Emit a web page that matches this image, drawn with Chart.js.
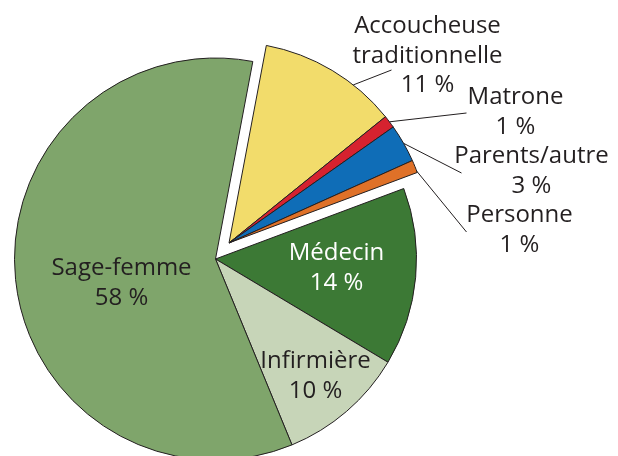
<!DOCTYPE html>
<html>
<head>
<meta charset="utf-8">
<script src="https://cdn.jsdelivr.net/npm/chart.js@4"></script>
<style>
    body { margin: 0; background: #fff; }
    #wrap { width: 618px; height: 456px; overflow: hidden; }
</style>
</head>
<body>
<div id="wrap"><canvas id="myChart" width="618" height="480"></canvas></div>
<script>
// values, clockwise from the top
const categories = ['Accoucheuse traditionnelle', 'Matrone', 'Parents/autre', 'Personne', 'Médecin', 'Infirmière', 'Sage-femme'];
const percents = [11, 1, 3, 1, 14, 10, 58];
const labelNames = [['Accoucheuse', 'traditionnelle'], ['Matrone'], ['Parents/autre'], ['Personne'], ['Médecin'], ['Infirmière'], ['Sage-femme']];
const exploded = [true, true, true, true, false, false, false];

const colors = ['#f2dc6b', '#d6222f', '#0f6db7', '#df7128', '#3c7935', '#c7d5b8', '#7fa56b'];
const textColors = ['#231f20', '#231f20', '#231f20', '#231f20', '#ffffff', '#231f20', '#231f20'];

// label placement relative to pie centre: [dx, dy of first baseline]
const labelPos = [[212, -226], [300, -155], [316, -96], [304, -37], [121, 1], [100, 109], [-94, 16]];
// leader lines: [fraction along arc, end dx, end dy] (null = label inside)
const leaders = [[0.68, 176, -189], [0.5, 251, -146], [0.5, 246, -86], [0.9, 251, -27], null, null, null];
const explodeDist = 21;

function groupExplode(chart) {
    let meta = chart.getDatasetMeta(0)
    let idx = []
    for (let i = 0; i < exploded.length; i++)
        if (exploded[i]) idx.push(i)
    let a0 = meta.data[idx[0]].startAngle
    let a1 = meta.data[idx[idx.length - 1]].endAngle
    let mid = (a0 + a1) / 2
    idx.forEach(i => {
        meta.data[i].x += Math.cos(mid) * explodeDist
        meta.data[i].y += Math.sin(mid) * explodeDist
    })
}

const pieLabels = {
    id: 'pieLabels',
    afterDatasetsUpdate(chart) {
        groupExplode(chart)
    },
    afterDatasetsDraw(chart) {
        let ctx = chart.ctx
        let meta = chart.getDatasetMeta(0)
        let cx = meta.data[4].x
        let cy = meta.data[4].y
        ctx.save()
        ctx.strokeStyle = '#231f20'
        ctx.lineWidth = 1
        for (let i = 0; i < percents.length; i++) {
            let l = leaders[i]
            if (!l) continue
            let arc = meta.data[i]
            let a = arc.startAngle + l[0] * (arc.endAngle - arc.startAngle)
            ctx.beginPath()
            ctx.moveTo(arc.x + Math.cos(a) * arc.outerRadius, arc.y + Math.sin(a) * arc.outerRadius)
            ctx.lineTo(cx + l[1], cy + l[2])
            ctx.stroke()
        }
        ctx.font = '24px "Open Sans"'
        ctx.textAlign = 'center'
        ctx.textBaseline = 'alphabetic'
        for (let i = 0; i < percents.length; i++) {
            let lines = labelNames[i].concat([percents[i] + ' %'])
            ctx.fillStyle = textColors[i]
            lines.forEach((t, k) => {
                ctx.fillText(t, cx + labelPos[i][0], cy + labelPos[i][1] + k * 29.5)
            })
        }
        ctx.restore()
    }
};

const ctx = document.getElementById('myChart').getContext('2d');
const myChart = new Chart(ctx, {
    type: 'pie',
    data: {
        labels: categories,
        datasets: [{
            data: percents,
            backgroundColor: colors,
            borderColor: '#231f20',
            borderWidth: 1
        }]
    },
    options: {
        responsive: false,
        animation: false,
        events: [],
        rotation: 10.7,
        layout: { padding: { left: 14, right: 201, top: 57, bottom: 19 } },
        plugins: {
            legend: { display: false },
            tooltip: { enabled: false }
        }
    },
    plugins: [pieLabels]
});
</script>
</body>
</html>
